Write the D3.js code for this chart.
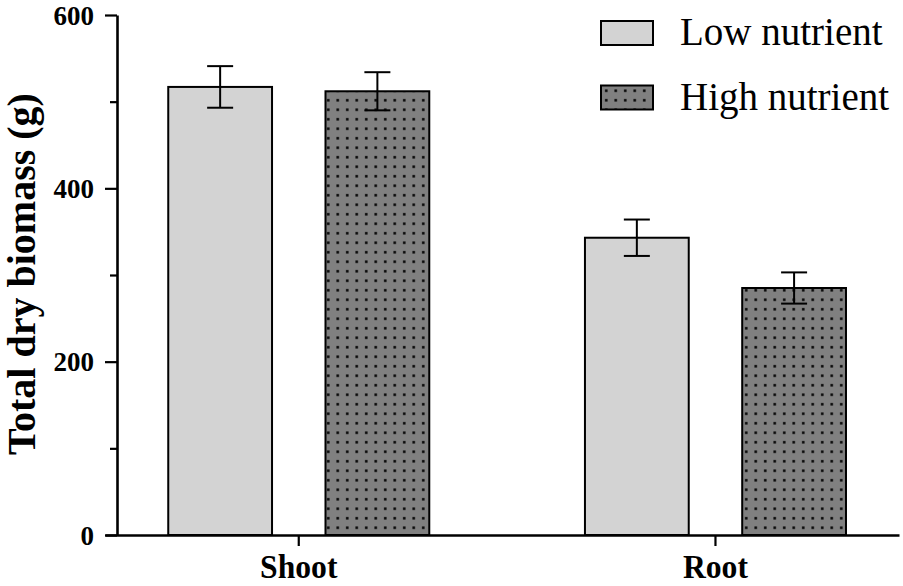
<!DOCTYPE html>
<html>
<head>
<meta charset="utf-8">
<script src="https://cdn.jsdelivr.net/npm/d3@7"></script>
<style>
  body { margin: 0; background: #fff; }
  svg { display: block; }
  text { font-family: "Liberation Serif", "Times New Roman", serif; fill: #000; }
</style>
</head>
<body>
<div id="chart"></div>
<script>
// data
const categories = ["Shoot", "Root"];
const seriesNames = ["Low nutrient", "High nutrient"];
const lowValues = [517, 343];
const lowErrors = [24, 21];
const highValues = [512, 285];
const highErrors = [22, 18];
const yMajorTicks = [0, 200, 400, 600];
const yMinorTicks = [100, 300, 500];

const width = 903, height = 586;
const axisX = 117, axisY = 535, topY = 15;

const rows = [];
categories.forEach((c, i) => {
  rows.push({ cat: c, series: seriesNames[0], value: lowValues[i], err: lowErrors[i] });
  rows.push({ cat: c, series: seriesNames[1], value: highValues[i], err: highErrors[i] });
});

const svg = d3.select("#chart")
  .append("svg")
  .attr("width", width)
  .attr("height", height);

// dotted fill for the high nutrient bars
const defs = svg.append("defs");
const pat = defs.append("pattern")
  .attr("id", "dots")
  .attr("patternUnits", "userSpaceOnUse")
  .attr("x", 1)
  .attr("y", 1)
  .attr("width", 9.5)
  .attr("height", 9.5);
pat.append("rect").attr("width", 9.5).attr("height", 9.5).attr("fill", "#808080");
pat.append("rect").attr("x", 3).attr("y", 3).attr("width", 2.5).attr("height", 2.5).attr("fill", "#000");

const fillFor = s => s === seriesNames[0] ? "#d3d3d3" : "url(#dots)";

// scales
const x0 = d3.scaleBand()
  .domain(categories)
  .range([105, 899])
  .paddingInner(0.3736)
  .paddingOuter(0.1395)
  .align(0.544);

const x1 = d3.scaleBand()
  .domain(seriesNames)
  .range([0, x0.bandwidth()])
  .paddingInner(0.34)
  .paddingOuter(0);

const y = d3.scaleLinear()
  .domain([0, 600])
  .range([axisY, topY]);

// bars
svg.append("g")
  .selectAll("rect")
  .data(rows)
  .join("rect")
    .attr("x", d => x0(d.cat) + x1(d.series))
    .attr("y", d => y(d.value))
    .attr("width", x1.bandwidth())
    .attr("height", d => y(0) - y(d.value))
    .attr("fill", d => fillFor(d.series))
    .attr("stroke", "#000")
    .attr("stroke-width", 2);

// error bars
const capW = 13;
const errG = svg.append("g").attr("stroke", "#000").attr("stroke-width", 2);
rows.forEach(d => {
  const cx = x0(d.cat) + x1(d.series) + x1.bandwidth() / 2;
  errG.append("line")
    .attr("x1", cx).attr("x2", cx)
    .attr("y1", y(d.value + d.err)).attr("y2", y(d.value - d.err));
  [d.value + d.err, d.value - d.err].forEach(v => {
    errG.append("line")
      .attr("x1", cx - capW).attr("x2", cx + capW)
      .attr("y1", y(v)).attr("y2", y(v));
  });
});

// y axis: minor ticks then major ticks with labels
const minorAxis = d3.axisLeft(y).tickValues(yMinorTicks).tickSize(7).tickFormat("").tickSizeOuter(0);
const majorAxis = d3.axisLeft(y).tickValues(yMajorTicks).tickSize(12).tickPadding(11).tickSizeOuter(0);

svg.append("g")
  .attr("transform", `translate(${axisX},0)`)
  .call(minorAxis)
  .call(g => g.select(".domain").remove())
  .call(g => g.selectAll("line").attr("stroke-width", 2.2));

svg.append("g")
  .attr("transform", `translate(${axisX},0)`)
  .call(majorAxis)
  .call(g => g.select(".domain").attr("stroke-width", 2.6))
  .call(g => g.selectAll("line").attr("stroke-width", 2.2))
  .call(g => g.selectAll("text")
    .attr("font-size", 27)
    .attr("font-weight", "bold")
    .attr("dy", "0.34em"));

// x axis
svg.append("g")
  .attr("transform", `translate(0,${axisY})`)
  .call(d3.axisBottom(x0).tickSize(11).tickSizeOuter(0))
  .call(g => g.select(".domain").attr("stroke-width", 2.6))
  .call(g => g.selectAll("line").attr("stroke-width", 2.2))
  .call(g => g.selectAll("text")
    .attr("font-size", 31)
    .attr("font-weight", "bold")
    .attr("y", 0)
    .attr("dy", 0)
    .attr("transform", "translate(0,43) scale(1.02,1.1)"));

// y axis label
svg.append("text")
  .attr("transform", `translate(35,${(85 + 463) / 2}) rotate(-90)`)
  .attr("text-anchor", "middle")
  .attr("font-size", 40)
  .attr("font-weight", "bold")
  .text("Total dry biomass (g)");

// legend
const legend = svg.append("g").attr("transform", "translate(601,21)");
seriesNames.forEach((s, i) => {
  const g = legend.append("g").attr("transform", `translate(0,${i * 64.5})`);
  g.append("rect")
    .attr("width", 52)
    .attr("height", 24)
    .attr("fill", fillFor(s))
    .attr("stroke", "#000")
    .attr("stroke-width", 2);
  g.append("text")
    .attr("x", 79)
    .attr("y", 24)
    .attr("font-size", 39)
    .text(s);
});
</script>
</body>
</html>
